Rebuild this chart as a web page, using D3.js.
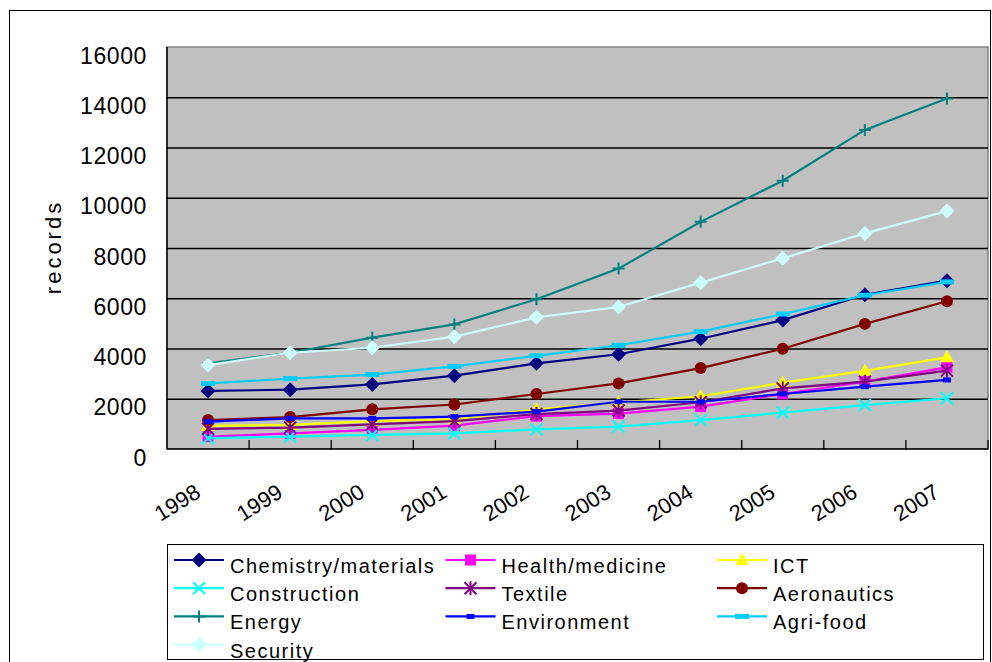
<!DOCTYPE html>
<html>
<head>
<meta charset="utf-8">
<script src="https://cdn.jsdelivr.net/npm/d3@7"></script>
<style>
  body { margin: 0; background: #fff; }
  svg { display: block; font-family: "Liberation Sans", Arial, sans-serif; }
</style>
</head>
<body>
<div class="container"></div>
<script>
let years = ["1998", "1999", "2000", "2001", "2002", "2003", "2004", "2005", "2006", "2007"];
let yTicks = [0, 2000, 4000, 6000, 8000, 10000, 12000, 14000, 16000];

let chemistry = [2310, 2360, 2570, 2920, 3410, 3770, 4390, 5130, 6140, 6700];
let health = [490, 620, 760, 930, 1310, 1410, 1690, 2190, 2680, 3250];
let ict = [920, 960, 1110, 1180, 1580, 1850, 2100, 2640, 3110, 3650];
let construction = [430, 490, 560, 620, 780, 890, 1150, 1450, 1750, 2020];
let textile = [800, 850, 980, 1110, 1390, 1530, 1860, 2410, 2680, 3120];
let aeronautics = [1150, 1270, 1580, 1770, 2190, 2610, 3220, 3990, 4980, 5880];
let energy = [3410, 3830, 4430, 4960, 5960, 7180, 9040, 10680, 12700, 13950];
let environment = [1090, 1220, 1220, 1290, 1490, 1880, 1880, 2190, 2480, 2750];
let agrifood = [2610, 2800, 2960, 3290, 3710, 4130, 4670, 5370, 6120, 6650];
let security = [3340, 3830, 4030, 4470, 5240, 5650, 6620, 7590, 8580, 9470];

let series = [
  { name: "Chemistry/materials", values: chemistry, color: "#000080", marker: "diamond" },
  { name: "Health/medicine", values: health, color: "#ff00ff", marker: "square" },
  { name: "ICT", values: ict, color: "#ffff00", marker: "triangle" },
  { name: "Construction", values: construction, color: "#00ffff", marker: "x" },
  { name: "Textile", values: textile, color: "#800080", marker: "star" },
  { name: "Aeronautics", values: aeronautics, color: "#800000", marker: "circle" },
  { name: "Energy", values: energy, color: "#008080", marker: "plus" },
  { name: "Environment", values: environment, color: "#0000ff", marker: "dash" },
  { name: "Agri-food", values: agrifood, color: "#00ccff", marker: "bar" },
  { name: "Security", values: security, color: "#ccffff", marker: "diamond" }
];

let svg = d3.select(".container")
  .append("svg")
  .attr("width", 992)
  .attr("height", 662);

// outer frame
svg.append("rect")
  .attr("x", 9.5)
  .attr("y", 10.5)
  .attr("width", 981)
  .attr("height", 700)
  .attr("fill", "none")
  .attr("stroke", "#000")
  .attr("stroke-width", 1);

let plotLeft = 167, plotRight = 988, plotTop = 47, plotBottom = 449;

let x = d3.scaleBand()
  .domain(years)
  .range([plotLeft, plotRight]);
let y = d3.scaleLinear()
  .domain([0, 16000])
  .range([plotBottom, plotTop]);
let cx = d => x(d) + x.bandwidth() / 2;

svg.append("rect")
  .attr("x", plotLeft)
  .attr("y", plotTop)
  .attr("width", plotRight - plotLeft)
  .attr("height", plotBottom - plotTop)
  .attr("fill", "#c0c0c0")
  .attr("stroke", "#808080")
  .attr("stroke-width", 1.5);

// gridlines
let grid = svg.append("g")
  .attr("transform", `translate(${plotLeft},0)`)
  .call(d3.axisLeft(y).tickValues(yTicks.slice(1, -1)).tickSize(-(plotRight - plotLeft)).tickFormat(""));
grid.select(".domain").remove();
grid.selectAll("line").attr("stroke", "#000").attr("stroke-width", 1.3);

// y labels
let yAxis = svg.append("g")
  .attr("transform", `translate(${plotLeft},0)`)
  .call(d3.axisLeft(y).tickValues(yTicks).tickSize(0).tickPadding(20).tickFormat(d3.format("d")));
yAxis.select(".domain").remove();
yAxis.selectAll("text")
  .attr("dy", "16px")
  .attr("font-size", 23)
  .attr("letter-spacing", "0.6px")
  .attr("fill", "#000")
  .attr("font-family", "Liberation Sans, Arial, sans-serif");

// axis lines
svg.append("line")
  .attr("x1", plotLeft).attr("x2", plotLeft)
  .attr("y1", plotTop).attr("y2", plotBottom)
  .attr("stroke", "#000").attr("stroke-width", 1.5);
svg.append("line")
  .attr("x1", plotLeft).attr("x2", plotRight)
  .attr("y1", plotBottom).attr("y2", plotBottom)
  .attr("stroke", "#000").attr("stroke-width", 1.5);

// x ticks (inside)
svg.append("g")
  .selectAll("line")
  .data(years.slice(1).map(d => x(d)).concat([plotRight]))
  .join("line")
  .attr("x1", d => d).attr("x2", d => d)
  .attr("y1", plotBottom).attr("y2", plotBottom - 9)
  .attr("stroke", "#000").attr("stroke-width", 1.3);

// x labels
let xAxis = svg.append("g")
  .attr("transform", `translate(0,${plotBottom})`)
  .call(d3.axisBottom(x).tickSize(0));
xAxis.select(".domain").remove();
xAxis.selectAll("text")
  .attr("y", 0)
  .attr("dy", 0)
  .attr("text-anchor", "end")
  .attr("transform", "translate(-6,47) rotate(-32)")
  .attr("font-size", 22)
  .attr("fill", "#000")
  .attr("font-family", "Liberation Sans, Arial, sans-serif");

// y title
svg.append("text")
  .attr("transform", "translate(61,247) rotate(-90)")
  .attr("text-anchor", "middle")
  .attr("font-size", 22)
  .attr("letter-spacing", "3px")
  .text("records");

function drawMarker(g, type, color, px, py) {
  if (type == "diamond") {
    g.append("path")
      .attr("d", `M ${px} ${py - 7.5} L ${px + 7.5} ${py} L ${px} ${py + 7.5} L ${px - 7.5} ${py} Z`)
      .attr("fill", color);
  } else if (type == "square") {
    g.append("rect")
      .attr("x", px - 5.5).attr("y", py - 5.5)
      .attr("width", 11).attr("height", 11)
      .attr("fill", color);
  } else if (type == "triangle") {
    g.append("path")
      .attr("d", `M ${px} ${py - 7} L ${px + 7} ${py + 5} L ${px - 7} ${py + 5} Z`)
      .attr("fill", color);
  } else if (type == "circle") {
    g.append("circle")
      .attr("cx", px).attr("cy", py).attr("r", 6)
      .attr("fill", color);
  } else if (type == "x") {
    g.append("path")
      .attr("d", `M ${px - 6} ${py - 6} L ${px + 6} ${py + 6} M ${px - 6} ${py + 6} L ${px + 6} ${py - 6}`)
      .attr("stroke", color).attr("stroke-width", 2).attr("fill", "none");
  } else if (type == "star") {
    g.append("path")
      .attr("d", `M ${px - 6} ${py - 6} L ${px + 6} ${py + 6} M ${px - 6} ${py + 6} L ${px + 6} ${py - 6} M ${px} ${py - 7} L ${px} ${py + 7}`)
      .attr("stroke", color).attr("stroke-width", 2).attr("fill", "none");
  } else if (type == "plus") {
    g.append("path")
      .attr("d", `M ${px - 6} ${py} L ${px + 6} ${py} M ${px} ${py - 6} L ${px} ${py + 6}`)
      .attr("stroke", color).attr("stroke-width", 2).attr("fill", "none");
  } else if (type == "dash") {
    g.append("rect")
      .attr("x", px - 4).attr("y", py - 2.5)
      .attr("width", 8).attr("height", 5)
      .attr("fill", color);
  } else if (type == "bar") {
    g.append("rect")
      .attr("x", px - 7).attr("y", py - 2.5)
      .attr("width", 14).attr("height", 5)
      .attr("fill", color);
  }
}

let line = d3.line()
  .x((d, i) => cx(years[i]))
  .y(d => y(d));

let lines = svg.append("g").attr("class", "series");
series.forEach(s => {
  let g = lines.append("g");
  g.append("path")
    .attr("d", line(s.values))
    .attr("fill", "none")
    .attr("stroke", s.color)
    .attr("stroke-width", 2.2);
  s.values.forEach((v, i) => drawMarker(g, s.marker, s.color, cx(years[i]), y(v)));
});

// legend
let legend = svg.append("g");
legend.append("rect")
  .attr("x", 167.5)
  .attr("y", 544.5)
  .attr("width", 816)
  .attr("height", 115)
  .attr("fill", "#fff")
  .attr("stroke", "#000")
  .attr("stroke-width", 1);

series.forEach((s, i) => {
  let col = i % 3, row = Math.floor(i / 3);
  let lx = 174 + col * 271.5;
  let ly = 560 + row * 28.2;
  let g = legend.append("g");
  g.append("line")
    .attr("x1", lx).attr("x2", lx + 50)
    .attr("y1", ly).attr("y2", ly)
    .attr("stroke", s.color).attr("stroke-width", 2.2);
  drawMarker(g, s.marker, s.color, lx + 25, ly);
  g.append("text")
    .attr("x", lx + 56)
    .attr("y", ly + 13)
    .attr("font-size", 20)
    .attr("letter-spacing", "1.5px")
    .text(s.name);
});
</script>
</body>
</html>
